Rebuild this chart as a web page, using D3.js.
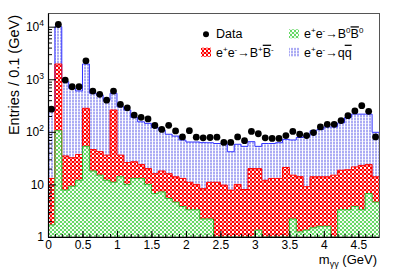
<!DOCTYPE html>
<html>
<head>
<meta charset="utf-8">
<script src="https://cdn.jsdelivr.net/npm/d3@7"></script>
<style>
body{margin:0;background:#fff}
svg{display:block;font-family:"Liberation Sans",Arial,Helvetica,sans-serif}
</style>
</head>
<body>
<svg id="chart" width="399" height="270"></svg>
<script>
// entries per 0.1 GeV bin (48 bins, 0 - 4.8 GeV)
var binWidth = 0.1;
var xMax = 4.8;
var dataCounts = [270, 11000, 965, 720, 720, 2240, 596, 518, 400, 596, 332, 286,
                  208, 189, 176, 132, 111, 133, 104, 80, 105, 79, 77, 78,
                  79, 63, 63, 80, 68, 102, 92, 77, 75, 75, 85, 102,
                  90, 85, 97, 124, 139, 139, 164, 203, 250, 315, 245, 80];
// e+e- -> B0 B0bar
var bbNeutral = [1.7, 105, 7.8, 9.2, 12, 53, 18, 15, 12, 11, 14, 10,
                 13, 13, 10, 6.7, 7.2, 5.4, 4.6, 3.8, 3.3, 3.3, 2.2, 2.2,
                 0, 0, 0, 0, 0, 0, 1.35, 0, 0, 0, 0, 2.2,
                 1.25, 1.35, 1.5, 1.6, 1.6, 0, 3.3, 3.3, 3.8, 3.3, 6.7, 4.6];
// e+e- -> B+ B-
var bbCharged = [11.3, 1845, 27, 23, 25, 227, 28, 27, 24, 249, 22, 16,
                 14, 11, 10, 9.3, 10.8, 10.6, 9.4, 9.2, 7.7, 6.7, 6.1, 8.8,
                 11, 9.7, 7.8, 10, 8, 20, 18.6, 12, 13, 13, 21, 12.8,
                 12.8, 7.7, 12.5, 12.4, 12.4, 15, 15.3, 15.7, 17.7, 19.7, 17.3, 9.4];
// e+e- -> q qbar
var qqbar = [237, 8050, 865, 638, 563, 1670, 494, 458, 364, 280, 264, 234,
             160, 131, 125, 105, 90, 74, 69, 57, 53, 54, 54, 51,
             49, 50, 34, 48, 45, 45, 33, 48, 47, 49, 51, 55,
             64, 74, 91, 97, 110, 109, 129, 168, 196, 194, 193, 84];

var xTicks = [0, 0.5, 1, 1.5, 2, 2.5, 3, 3.5, 4, 4.5];
var xTickLabels = ["0", "0.5", "1", "1.5", "2", "2.5", "3", "3.5", "4", "4.5"];
var yMajor = [1, 10, 100, 1000, 10000];
var yMajorExp = [0, 1, 2, 3, 4];

var margin = {top: 13, right: 20, bottom: 33, left: 48},
    width = 399 - margin.left - margin.right,
    height = 270 - margin.top - margin.bottom;

var svg = d3.select("#chart");
var defs = svg.append("defs");

// ROOT-like fill patterns: a tile with a background and a few blocks
function pattern(id, size, bg, blocks) {
    var p = defs.append("pattern").attr("id", id)
        .attr("patternUnits", "userSpaceOnUse")
        .attr("width", size).attr("height", size);
    p.append("rect").attr("width", size).attr("height", size).attr("fill", bg);
    blocks.forEach(function (b) {
        p.append("rect").attr("x", b[0]).attr("y", b[1])
            .attr("width", b[2]).attr("height", b[3]).attr("fill", b[4]);
    });
}
pattern("pGreen", 4, "#ffffff", [[0, 0, 2, 2, "#66d866"], [2, 2, 2, 2, "#66d866"], [2, 0, 2, 2, "#e6f8e6"]]);
pattern("pRed", 4, "#ffffff", [[0, 0, 2, 2, "#ff0000"], [2, 2, 2, 2, "#ff0000"], [2, 0, 2, 2, "#ff9090"]]);
pattern("pBlue", 3, "#ffffff", [[0, 0, 2, 2, "#acacf4"], [0, 2, 2, 1, "#dadafa"]]);

var g = svg.append("g")
    .attr("transform", "translate(" + margin.left + "," + margin.top + ")");

var x = d3.scaleLinear().domain([0, xMax]).range([0, width]);
var y = d3.scaleLog().domain([1, 18200]).range([height, 0]).clamp(true);
function yv(v) { return y(Math.max(v, 1)); }

var rows = dataCounts.map(function (d, i) {
    return {lo: i * binWidth, neutral: bbNeutral[i], charged: bbCharged[i], qq: qqbar[i]};
});
var layers = d3.stack().keys(["neutral", "charged", "qq"])(rows);

var styles = {
    neutral: {fill: "url(#pGreen)", line: "#33bb33"},
    charged: {fill: "url(#pRed)", line: "#ff0000"},
    qq: {fill: "url(#pBlue)", line: "#3030ff"}
};

// add the right edge of the last bin so the step reaches it
function steps(layer) {
    var pts = layer.map(function (d, i) {
        return {x: rows[i].lo, y0: d[0], y1: d[1]};
    });
    var last = pts[pts.length - 1];
    pts.push({x: last.x + binWidth, y0: last.y0, y1: last.y1});
    return pts;
}

var area = d3.area().curve(d3.curveStepAfter)
    .x(function (d) { return x(d.x); })
    .y0(function (d) { return yv(d.y0); })
    .y1(function (d) { return yv(d.y1); });
var topLine = d3.line().curve(d3.curveStepAfter)
    .x(function (d) { return x(d.x); })
    .y(function (d) { return yv(d.y1); });

var ordered = layers.slice().reverse();
ordered.forEach(function (layer) {
    g.append("path").datum(steps(layer))
        .attr("fill", styles[layer.key].fill)
        .attr("d", area);
});
ordered.forEach(function (layer) {
    g.append("path").datum(steps(layer))
        .attr("fill", "none")
        .attr("stroke", styles[layer.key].line)
        .attr("stroke-width", 1)
        .attr("d", topLine);
});

// data points
g.selectAll("circle.data").data(dataCounts).enter().append("circle")
    .attr("class", "data")
    .attr("cx", function (d, i) { return x(rows[i].lo + binWidth / 2); })
    .attr("cy", function (d) { return yv(d); })
    .attr("r", 3.4)
    .attr("fill", "#000");

// frame
g.append("rect").attr("x", 0.5).attr("y", 0.5)
    .attr("width", width).attr("height", height - 0.5)
    .attr("fill", "none").attr("stroke", "#555").attr("stroke-width", 1);

// y axis
var yMinor = y.ticks().filter(function (v) { return yMajor.indexOf(v) < 0; });
g.append("g")
    .call(d3.axisLeft(y).tickValues(yMinor).tickSizeInner(-4).tickSizeOuter(0).tickFormat(""))
    .call(function (a) { a.select(".domain").remove(); });
var yAxis = g.append("g")
    .call(d3.axisLeft(y).tickValues(yMajor).tickSizeInner(-8).tickSizeOuter(0).tickPadding(4));
yAxis.selectAll("text").each(function (d, i) {
    var t = d3.select(this).text("");
    var e = yMajorExp[i];
    if (e === 0) { t.text("1"); return; }
    t.append("tspan").text("10");
    if (e > 1) t.append("tspan").attr("dy", "-5").attr("font-size", "8.5px").text(e);
});
yAxis.selectAll("text").attr("font-size", "12px").attr("font-family", null).attr("fill", "#000");

// x axis
var xMinor = d3.range(0, 48).map(function (i) { return i * binWidth; });
g.append("g").attr("transform", "translate(0," + height + ")")
    .call(d3.axisBottom(x).tickValues(xMinor).tickSizeInner(-3).tickSizeOuter(0).tickFormat(""))
    .call(function (a) { a.select(".domain").remove(); });
var xAxis = g.append("g").attr("transform", "translate(0," + height + ")")
    .call(d3.axisBottom(x).tickValues(xTicks).tickSizeInner(-6).tickSizeOuter(0).tickPadding(3)
        .tickFormat(function (d, i) { return xTickLabels[i]; }));
xAxis.selectAll("text").attr("font-size", "12px").attr("font-family", null).attr("fill", "#000");

g.selectAll(".domain").attr("stroke", "#000").attr("stroke-width", 1.2);
g.selectAll(".tick line").attr("stroke", "#000");

// axis titles
svg.append("text")
    .attr("transform", "translate(19,15) rotate(-90)")
    .attr("text-anchor", "end")
    .attr("font-size", "14.5px")
    .text("Entries / 0.1 (GeV)");

var xt = svg.append("text").attr("x", 377).attr("y", 264)
    .attr("text-anchor", "end").attr("font-size", "13px");
xt.append("tspan").text("m");
xt.append("tspan").attr("dy", "3").attr("font-size", "9px").text("γγ");
xt.append("tspan").attr("dy", "-3").text(" (GeV)");

// legend
var legendItems = [
    {kind: "data", col: 0, row: 0, parts: [["Data"]]},
    {kind: "neutral", col: 1, row: 0, parts: [["e"], ["+", "sup"], ["e"], ["-", "sup"], ["→"], ["B"], ["0", "sup"], ["B", "bar"], ["0", "sup"]]},
    {kind: "charged", col: 0, row: 1, parts: [["e"], ["+", "sup"], ["e"], ["-", "sup"], ["→"], ["B"], ["+", "sup"], ["B", "bar"], ["-", "sup"]]},
    {kind: "qq", col: 1, row: 1, parts: [["e"], ["+", "sup"], ["e"], ["-", "sup"], ["→"], ["q"], ["q", "bar"]]}
];
var legCols = [201, 289], legRows = [38.3, 56.7];
var leg = svg.append("g");
legendItems.forEach(function (it) {
    var lx = legCols[it.col], ly = legRows[it.row];
    if (it.kind === "data") {
        leg.append("circle").attr("cx", lx + 5).attr("cy", ly - 4).attr("r", 3).attr("fill", "#000");
    } else {
        leg.append("rect").attr("x", lx).attr("y", ly - 9).attr("width", 10).attr("height", 9)
            .attr("fill", styles[it.kind].fill);
    }
    var t = leg.append("text").attr("x", lx + 15).attr("y", ly).attr("font-size", "12.5px");
    var raised = false;
    it.parts.forEach(function (p) {
        var s = t.append("tspan").text(p[0]);
        if (p[1] === "sup") {
            s.attr("font-size", "8px");
            if (!raised) s.attr("dy", "-5");
            raised = true;
        } else {
            if (raised) s.attr("dy", "5");
            raised = false;
            if (p[1] === "bar") s.style("text-decoration", "overline");
        }
    });
});
</script>
</body>
</html>
